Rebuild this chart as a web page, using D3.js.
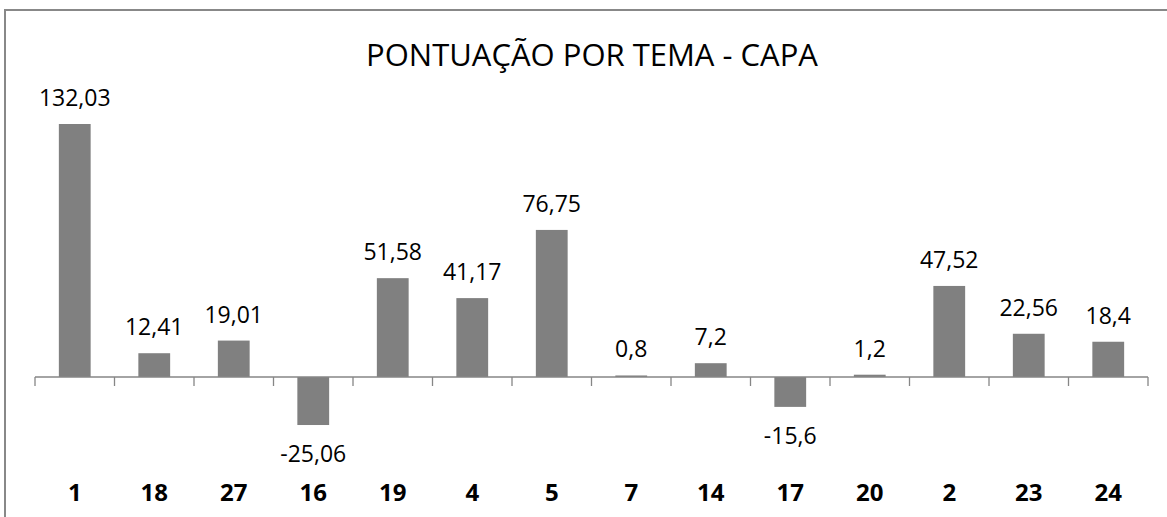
<!DOCTYPE html>
<html>
<head>
<meta charset="utf-8">
<script src="https://cdn.jsdelivr.net/npm/d3@7"></script>
<style>
  body { margin: 0; background: #fff; }
  text { font-family: "Open Sans", sans-serif; }
</style>
</head>
<body>
<div id="chart"></div>
<script>

var temas = ["1", "18", "27", "16", "19", "4", "5", "7", "14", "17", "20", "2", "23", "24"];
var pontos = [132.03, 12.41, 19.01, -25.06, 51.58, 41.17, 76.75, 0.8, 7.2, -15.6, 1.2, 47.52, 22.56, 18.4];
var rotulos = ["132,03", "12,41", "19,01", "-25,06", "51,58", "41,17", "76,75", "0,8", "7,2", "-15,6", "1,2", "47,52", "22,56", "18,4"];

var svg_dx = 1167,
    svg_dy = 517;

var svg = d3.select("#chart")
            .append("svg")
            .attr("width", svg_dx)
            .attr("height", svg_dy);

// chart border (top + left visible)
svg.append("path")
   .attr("d", "M5,520 L5,10 L1170,10")
   .style("fill", "none")
   .style("stroke", "#888")
   .style("stroke-width", 2);

var x = d3.scaleBand()
          .domain(temas)
          .range([35, 1148])
          .paddingInner(0.6)
          .paddingOuter(0.3);

var y = d3.scaleLinear()
          .domain([0, 132.03])
          .range([377, 124]);

// bars
svg.append("g")
   .selectAll("rect")
   .data(pontos)
   .enter()
   .append("rect")
   .attr("x", (d, i) => x(temas[i]))
   .attr("width", x.bandwidth())
   .attr("y", d => y(Math.max(0, d)))
   .attr("height", d => Math.abs(y(d) - y(0)))
   .style("fill", "#808080");

// axis line with ticks between categories
var step = x.step();
var axis = svg.append("g").style("stroke", "#868686").style("stroke-width", 1.3);
axis.append("line")
    .attr("x1", 35).attr("x2", 1148)
    .attr("y1", y(0)).attr("y2", y(0));
d3.range(temas.length + 1).forEach(function (i) {
    var tx = 35 + i * step;
    axis.append("line")
        .attr("x1", tx).attr("x2", tx)
        .attr("y1", y(0)).attr("y2", y(0) + 9);
});

// data labels
svg.append("g")
   .selectAll("text")
   .data(pontos)
   .enter()
   .append("text")
   .attr("x", (d, i) => x(temas[i]) + x.bandwidth() / 2)
   .attr("y", d => d >= 0 ? y(d) - 18 : y(d) + 37)
   .attr("text-anchor", "middle")
   .style("font-size", "23px")
   .style("fill", "#000")
   .text((d, i) => rotulos[i]);

// category labels
svg.append("g")
   .selectAll("text")
   .data(temas)
   .enter()
   .append("text")
   .attr("x", d => x(d) + x.bandwidth() / 2)
   .attr("y", 501)
   .attr("text-anchor", "middle")
   .style("font-size", "24px")
   .style("font-weight", "bold")
   .style("fill", "#000")
   .text(d => d);

// title
svg.append("text")
   .attr("x", 592)
   .attr("y", 66)
   .attr("text-anchor", "middle")
   .style("font-size", "31px")
   .style("fill", "#000")
   .text("PONTUAÇÃO POR TEMA - CAPA");

</script>
</body>
</html>
